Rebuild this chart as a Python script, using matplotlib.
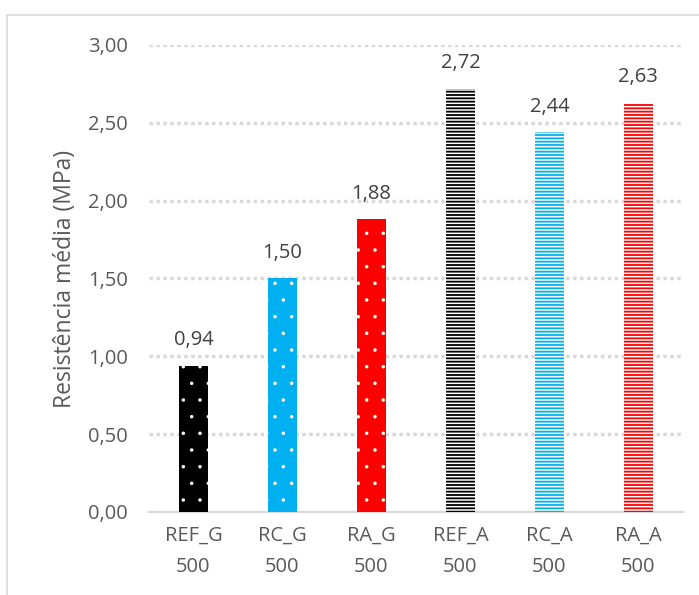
import matplotlib.pyplot as plt
from matplotlib.patches import Rectangle

plt.rcParams['font.family'] = ['Open Sans', 'DejaVu Sans']

labels = ['REF_G\n500', 'RC_G\n500', 'RA_G\n500', 'REF_A\n500', 'RC_A\n500', 'RA_A\n500']
values = [0.94, 1.50, 1.88, 2.72, 2.44, 2.63]
colors = ['#000000', '#00b0f0', '#ff0000', '#000000', '#00b0f0', '#ff0000']
hatches = ['.', '.', '.', '-----', '-----', '-----']

fig = plt.figure(figsize=(6.99, 5.95), dpi=100)
ax = fig.add_axes([0.213, 0.1395, 0.764, 0.785])

x = range(len(values))
for i in x:
    if hatches[i] == '.':
        with plt.rc_context({'hatch.linewidth': 0.1}):
            ax.bar(i, values[i], width=0.33, color=colors[i], edgecolor='white',
                   hatch=hatches[i], linewidth=0, zorder=3)
    else:
        with plt.rc_context({'hatch.linewidth': 1.3}):
            ax.bar(i, values[i], width=0.33, color='white', edgecolor=colors[i],
                   hatch=hatches[i], linewidth=0, zorder=3)
    ax.text(i, values[i] + 0.1, f'{values[i]:.2f}'.replace('.', ','),
            ha='center', va='bottom', fontsize=14.5, color='#404040')

ax.set_xlim(-0.5, 5.5)
ax.set_ylim(0, 3)
ticks = [0, 0.5, 1, 1.5, 2, 2.5, 3]
ax.set_yticks(ticks)
ax.set_yticklabels([f'{v:.2f}'.replace('.', ',') for v in ticks])
ax.set_xticks(list(x))
ax.set_xticklabels(labels, linespacing=1.75)
ax.tick_params(axis='both', length=0, labelsize=14.5, colors='#595959')
ax.tick_params(axis='x', pad=10)
ax.tick_params(axis='y', pad=15)
ax.set_ylabel('Resistência média (MPa)', fontsize=16.5, color='#595959', labelpad=8)

ax.yaxis.grid(True, linestyle=(0, (1, 1)), color='#d9d9d9', linewidth=2.5, zorder=0)
for s in ['top', 'right', 'left']:
    ax.spines[s].set_visible(False)
ax.spines['bottom'].set_color('#d9d9d9')
ax.spines['bottom'].set_linewidth(1.5)

fig.patches.append(Rectangle((7 / 699, -0.05), 1.0, 1 - 15 / 595 + 0.05,
                             transform=fig.transFigure, fill=False,
                             edgecolor='#d9d9d9', linewidth=1.2))

fig.savefig('out.png', dpi=100)
